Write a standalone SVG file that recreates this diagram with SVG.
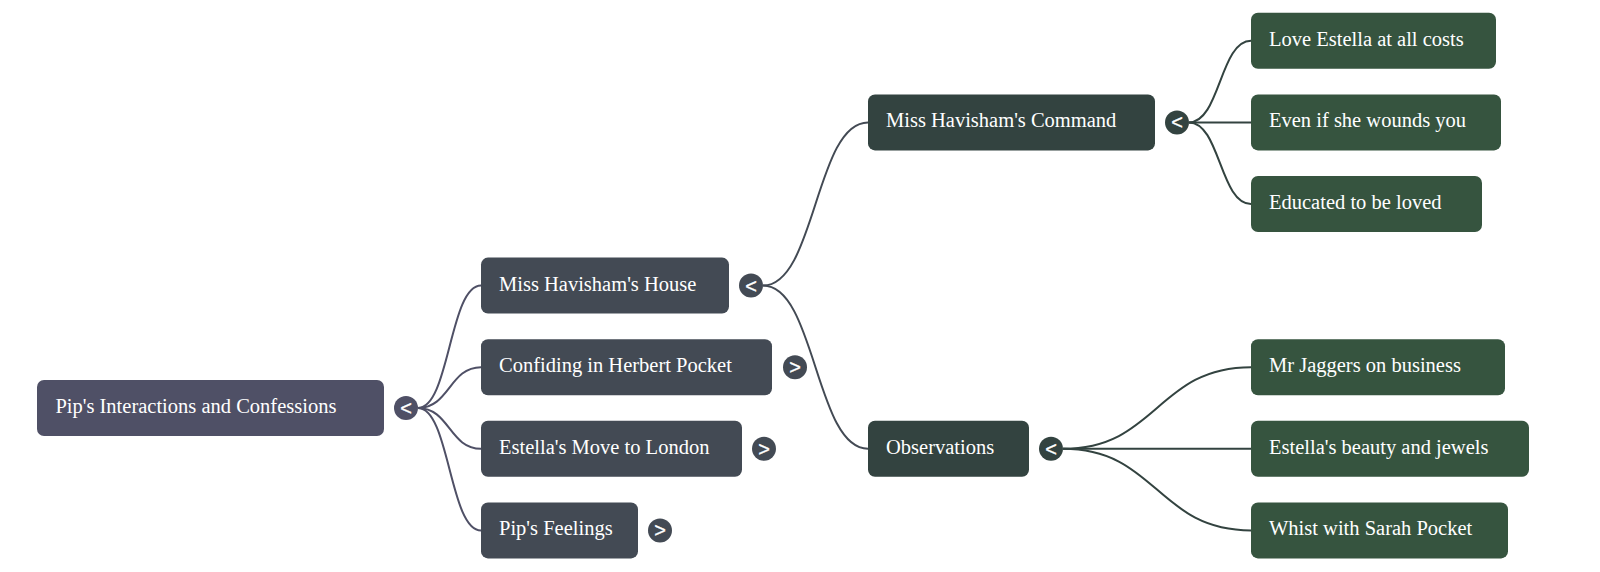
<svg xmlns="http://www.w3.org/2000/svg" width="1600" height="572" viewBox="0 0 1600 572">
<style>
.n text{font-family:"Liberation Sans",Arial,sans-serif;font-size:20.5px;fill:#ffffff}
.n text{font-family:"Liberation Serif","Times New Roman",serif}
.t text{font-family:"Liberation Sans",Arial,sans-serif;font-size:20px;fill:#ffffff;text-anchor:middle;stroke:#ffffff;stroke-width:0.3}
.l0 rect,.l0c{fill:#4f5066}
.l1 rect,.l1c{fill:#434a54}
.l2 rect,.l2c{fill:#334340}
.l3 rect{fill:#36543f}
.c path{fill:none;stroke-width:2}
</style>
<g class="c" id="connectors">
<g stroke="#4f5066">
<path d="M418,408 C449.5,408 449.5,285.6 481,285.6"/>
<path d="M418,408 C449.5,408 449.5,367.2 481,367.2"/>
<path d="M418,408 C449.5,408 449.5,448.8 481,448.8"/>
<path d="M418,408 C449.5,408 449.5,530.4 481,530.4"/>
</g>
<g stroke="#434a54">
<path d="M763,285.6 C815.5,285.6 815.5,122.4 868,122.4"/>
<path d="M763,285.6 C815.5,285.6 815.5,448.8 868,448.8"/>
</g>
<g stroke="#334340">
<path d="M1189,122.4 C1220,122.4 1220,40.8 1251,40.8"/>
<path d="M1189,122.4 L1251,122.4"/>
<path d="M1189,122.4 C1220,122.4 1220,204 1251,204"/>
<path d="M1063,448.8 C1157,448.8 1157,367.2 1251,367.2"/>
<path d="M1063,448.8 L1251,448.8"/>
<path d="M1063,448.8 C1157,448.8 1157,530.4 1251,530.4"/>
</g>
</g>
<g id="root" class="n l0"><rect x="37" y="380" width="347" height="56" rx="7"/><text x="55.4" y="413">Pip's Interactions and Confessions</text></g>
<g id="root-toggle" class="t"><circle class="l0c" cx="406" cy="408" r="12"/><text x="406" y="415">&lt;</text></g>

<g id="house" class="n l1"><rect x="481" y="257.6" width="248" height="56" rx="7"/><text x="499" y="290.6">Miss Havisham's House</text></g>
<g id="house-toggle" class="t"><circle class="l1c" cx="751" cy="285.6" r="12"/><text x="751" y="292.6">&lt;</text></g>
<g id="herbert" class="n l1"><rect x="481" y="339.2" width="291" height="56" rx="7"/><text x="499" y="372.2">Confiding in Herbert Pocket</text></g>
<g id="herbert-toggle" class="t"><circle class="l1c" cx="795" cy="367.2" r="12"/><text x="795" y="374.2">&gt;</text></g>
<g id="london" class="n l1"><rect x="481" y="420.8" width="261" height="56" rx="7"/><text x="499" y="453.8">Estella's Move to London</text></g>
<g id="london-toggle" class="t"><circle class="l1c" cx="764" cy="448.8" r="12"/><text x="764" y="455.8">&gt;</text></g>
<g id="feelings" class="n l1"><rect x="481" y="502.4" width="157" height="56" rx="7"/><text x="499" y="535.4">Pip's Feelings</text></g>
<g id="feelings-toggle" class="t"><circle class="l1c" cx="660" cy="530.4" r="12"/><text x="660" y="537.4">&gt;</text></g>

<g id="command" class="n l2"><rect x="868" y="94.4" width="287" height="56" rx="7"/><text x="886" y="127.4">Miss Havisham's Command</text></g>
<g id="command-toggle" class="t"><circle class="l2c" cx="1177" cy="122.4" r="12"/><text x="1177" y="129.4">&lt;</text></g>
<g id="observations" class="n l2"><rect x="868" y="420.8" width="161" height="56" rx="7"/><text x="886" y="453.8">Observations</text></g>
<g id="observations-toggle" class="t"><circle class="l2c" cx="1051" cy="448.8" r="12"/><text x="1051" y="455.8">&lt;</text></g>

<g id="love" class="n l3"><rect x="1251" y="12.8" width="245" height="56" rx="7"/><text x="1269" y="45.8">Love Estella at all costs</text></g>
<g id="wounds" class="n l3"><rect x="1251" y="94.4" width="250" height="56" rx="7"/><text x="1269" y="127.4">Even if she wounds you</text></g>
<g id="educated" class="n l3"><rect x="1251" y="176" width="231" height="56" rx="7"/><text x="1269" y="209">Educated to be loved</text></g>
<g id="jaggers" class="n l3"><rect x="1251" y="339.2" width="254" height="56" rx="7"/><text x="1269" y="372.2">Mr Jaggers on business</text></g>
<g id="jewels" class="n l3"><rect x="1251" y="420.8" width="278" height="56" rx="7"/><text x="1269" y="453.8">Estella's beauty and jewels</text></g>
<g id="whist" class="n l3"><rect x="1251" y="502.4" width="257" height="56" rx="7"/><text x="1269" y="535.4">Whist with Sarah Pocket</text></g>
</svg>
